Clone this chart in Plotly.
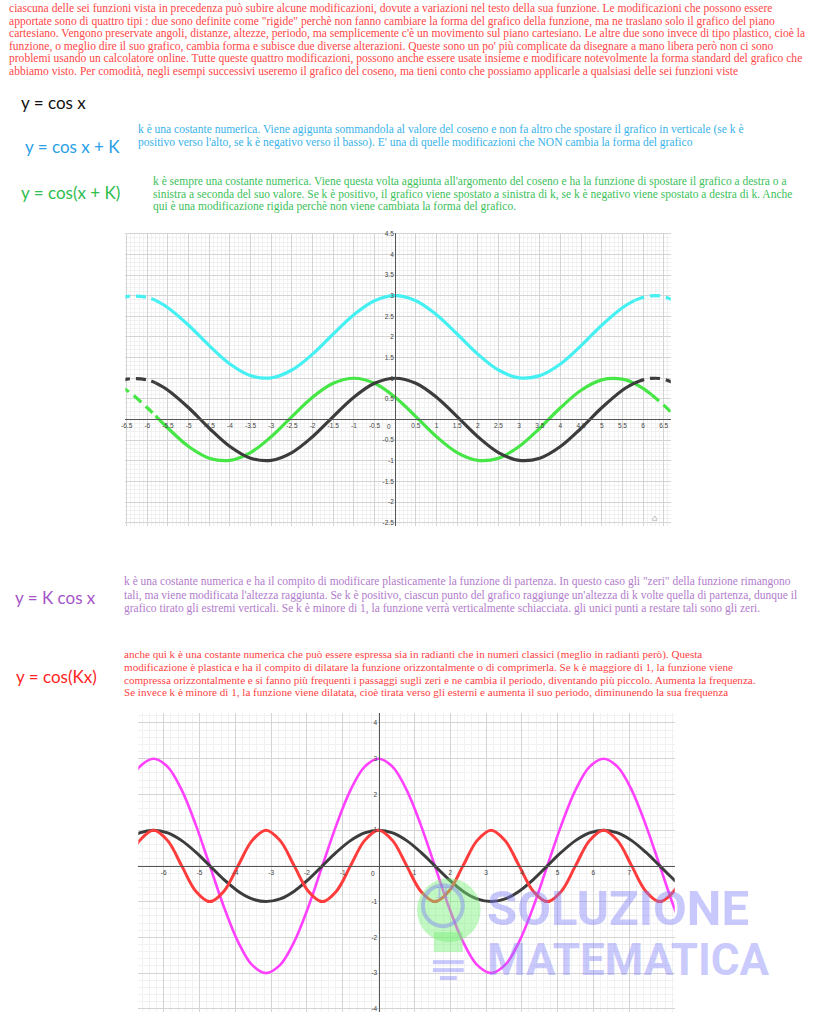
import plotly.graph_objects as go

W, H = 819, 1024

# ---------------- DATA ----------------
RED_INTRO = [
    "ciascuna delle sei funzioni vista in precedenza può subire alcune modificazioni, dovute a variazioni nel testo della sua funzione. Le modificazioni che possono essere",
    "apportate sono di quattro tipi : due sono definite come \"rigide\" perchè non fanno cambiare la forma del grafico della funzione, ma ne traslano solo il grafico del piano",
    "cartesiano. Vengono preservate angoli, distanze, altezze, periodo, ma semplicemente c'è un movimento sul piano cartesiano. Le altre due sono invece di tipo plastico, cioè la",
    "funzione, o meglio dire il suo grafico, cambia forma e subisce due diverse alterazioni. Queste sono un po' più complicate da disegnare a mano libera però non ci sono",
    "problemi usando un calcolatore online. Tutte queste quattro modificazioni, possono anche essere usate insieme e modificare notevolmente la forma standard del grafico che",
    "abbiamo visto. Per comodità, negli esempi successivi useremo il grafico del coseno, ma tieni conto che possiamo applicarle a qualsiasi delle sei funzioni viste",
]
BLUE_TEXT = [
    "k è una costante numerica. Viene agigunta sommandola al valore del coseno e non fa altro che spostare il grafico in verticale (se k è",
    "positivo verso l'alto, se k è negativo verso il basso). E' una di quelle modificazioni che NON cambia la forma del grafico",
]
GREEN_TEXT = [
    "k è sempre una costante numerica. Viene questa volta aggiunta all'argomento del coseno e ha la funzione di spostare il grafico a destra o a",
    "sinistra a seconda del suo valore. Se k è positivo, il grafico viene spostato a sinistra di k, se k è negativo viene spostato a destra di k. Anche",
    "qui è una modificazione rigida perchè non viene cambiata la forma del grafico.",
]
PURPLE_TEXT = [
    "k è una costante numerica e ha il compito di modificare plasticamente la funzione di partenza. In questo caso gli \"zeri\" della funzione rimangono",
    "tali, ma viene modificata l'altezza raggiunta. Se k è positivo, ciascun punto del grafico raggiunge un'altezza di k volte quella di partenza, dunque il",
    "grafico tirato gli estremi verticali. Se k è minore di 1, la funzione verrà verticalmente schiacciata. gli unici punti a restare tali sono gli zeri.",
]
RED_TEXT = [
    "anche qui k è una costante numerica che può essere espressa sia in radianti che in numeri classici (meglio in radianti però). Questa",
    "modificazione è plastica e ha il compito di dilatare la funzione orizzontalmente o di comprimerla. Se k è maggiore di 1, la funzione viene",
    "compressa orizzontalmente e si fanno più frequenti i passaggi sugli zeri e ne cambia il periodo, diventando più piccolo. Aumenta la frequenza.",
    "Se invece k è minore di 1, la funzione viene dilatata, cioè tirata verso gli esterni e aumenta il suo periodo, diminunendo la sua frequenza",
]
FORMULAS = ["y = cos x", "y = cos x + K", "y = cos(x + K)", "y = K cos x", "y = cos(Kx)"]
WATERMARK = ["SOLUZIONE", "MATEMATICA"]

# Chart 1 : cos x, cos x + 2, cos(x + 1)
X1 = [-7, -6.5, -6, -5.8, -5.5, -5, -4.5, -4, -3.5, -3, -2.5, -2, -1.5, -1, -0.5, 0,
      0.5, 1, 1.5, 2, 2.5, 3, 3.5, 4, 4.5, 5, 5.5, 5.8, 6, 6.2, 6.5, 7]
BLACK1 = [0.754, 0.977, 0.960, 0.886, 0.709, 0.284, -0.211, -0.654, -0.937, -0.990, -0.801, -0.416,
          0.071, 0.540, 0.878, 1.0, 0.878, 0.540, 0.071, -0.416, -0.801, -0.990, -0.937, -0.654,
          -0.211, 0.284, 0.709, 0.886, 0.960, 0.997, 0.977, 0.754]
CYAN1 = [2.754, 2.977, 2.960, 2.886, 2.709, 2.284, 1.789, 1.346, 1.063, 1.010, 1.199, 1.584,
         2.071, 2.540, 2.878, 3.0, 2.878, 2.540, 2.071, 1.584, 1.199, 1.010, 1.063, 1.346,
         1.789, 2.284, 2.709, 2.886, 2.960, 2.997, 2.977, 2.754]
GREEN1 = [0.960, 0.709, 0.284, 0.087, -0.211, -0.654, -0.937, -0.990, -0.801, -0.416, 0.071, 0.540,
          0.878, 1.0, 0.878, 0.540, 0.071, -0.416, -0.801, -0.990, -0.937, -0.654, -0.211, 0.284,
          0.709, 0.960, 0.977, 0.869, 0.754, 0.608, 0.347, -0.146]
SOLID_SPAN1 = {"black": (-5.8, 5.8), "cyan": (-5.8, 5.8), "green": (-5.8, 6.2)}
X1_TICKS = [-6.5, -6, -5.5, -5, -4.5, -4, -3.5, -3, -2.5, -2, -1.5, -1, -0.5,
            0.5, 1, 1.5, 2, 2.5, 3, 3.5, 4, 4.5, 5, 5.5, 6, 6.5]
Y1_TICKS = [-2.5, -2, -1.5, -1, -0.5, 0.5, 1, 1.5, 2, 2.5, 3, 3.5, 4, 4.5]

# Chart 2 : cos x, cos(2x), 3 cos x
X2 = [-7.069, -6.676, -6.283, -5.890, -5.498, -5.105, -4.712, -4.320, -3.927, -3.534,
      -3.142, -2.749, -2.356, -1.963, -1.571, -1.178, -0.785, -0.393, 0.0, 0.393,
      0.785, 1.178, 1.571, 1.963, 2.356, 2.749, 3.142, 3.534, 3.927, 4.320,
      4.712, 5.105, 5.498, 5.890, 6.283, 6.676, 7.069, 7.461, 7.854, 8.247, 8.639]
BLACK2 = [0.707, 0.924, 1, 0.924, 0.707, 0.383, 0, -0.383, -0.707, -0.924,
          -1, -0.924, -0.707, -0.383, 0, 0.383, 0.707, 0.924, 1, 0.924,
          0.707, 0.383, 0, -0.383, -0.707, -0.924, -1, -0.924, -0.707, -0.383,
          0, 0.383, 0.707, 0.924, 1, 0.924, 0.707, 0.383, 0, -0.383, -0.707]
RED2 = [0, 0.707, 1, 0.707, 0, -0.707, -1, -0.707, 0, 0.707,
        1, 0.707, 0, -0.707, -1, -0.707, 0, 0.707, 1, 0.707,
        0, -0.707, -1, -0.707, 0, 0.707, 1, 0.707, 0, -0.707,
        -1, -0.707, 0, 0.707, 1, 0.707, 0, -0.707, -1, -0.707, 0]
MAGENTA2 = [2.121, 2.772, 3, 2.772, 2.121, 1.149, 0, -1.149, -2.121, -2.772,
            -3, -2.772, -2.121, -1.149, 0, 1.149, 2.121, 2.772, 3, 2.772,
            2.121, 1.149, 0, -1.149, -2.121, -2.772, -3, -2.772, -2.121, -1.149,
            0, 1.149, 2.121, 2.772, 3, 2.772, 2.121, 1.149, 0, -1.149, -2.121]
X2_TICKS = [-6, -5, -4, -3, -2, -1, 1, 2, 3, 4, 5, 6, 7]
Y2_TICKS = [-4, -3, -2, -1, 1, 2, 3, 4]

# ---------------- STYLE / LAYOUT ----------------
C_BLACK = "#3c3c3c"
C_CYAN = "#45f0f2"
C_GREEN = "#45e645"
C_RED = "#ff3c3c"
C_MAG = "#ff40ff"

# plot areas in pixels: left, right, top, bottom; data ranges
P1 = dict(l=122, r=670, t=231, b=525, xr=[-6.53, 6.67], yr=[-2.58, 4.53])
P2 = dict(l=135, r=674, t=712, b=1012, xr=[-6.71, 8.27], yr=[-4.09, 4.29])


def px_x(v):
    return v / W


def px_y(v):
    return 1 - v / H


fig = go.Figure()


def split(xs, ys, lo, hi):
    solid = [(x, y) for x, y in zip(xs, ys) if lo <= x <= hi]
    left = [(x, y) for x, y in zip(xs, ys) if x <= lo]
    right = [(x, y) for x, y in zip(xs, ys) if x >= hi]
    return solid, left, right


def add_curve(xs, ys, color, width, xa, ya, span=None):
    if span is None:
        parts = [(list(zip(xs, ys)), "solid")]
    else:
        s, l, r = split(xs, ys, *span)
        parts = [(s, "solid"), (l, "10px,6px"), (r, "10px,6px")]
    for pts, dash in parts:
        fig.add_trace(go.Scatter(
            x=[p[0] for p in pts], y=[p[1] for p in pts], mode="lines",
            line=dict(color=color, width=width, dash=dash, shape="spline", smoothing=1.0),
            xaxis=xa, yaxis=ya, showlegend=False, hoverinfo="skip"))


add_curve(X1, CYAN1, C_CYAN, 3.2, "x", "y", SOLID_SPAN1["cyan"])
add_curve(X1, GREEN1, C_GREEN, 3.2, "x", "y", SOLID_SPAN1["green"])
add_curve(X1, BLACK1, C_BLACK, 3.2, "x", "y", SOLID_SPAN1["black"])

add_curve(X2, MAGENTA2, C_MAG, 2.6, "x2", "y2")
add_curve(X2, BLACK2, C_BLACK, 3.0, "x2", "y2")
add_curve(X2, RED2, C_RED, 3.0, "x2", "y2")


def axis_pair(P, xticks, yticks, minor):
    xd = [px_x(P["l"]), px_x(P["r"])]
    yd = [px_y(P["b"]), px_y(P["t"])]
    x0, x1 = P["xr"]
    y0, y1 = P["yr"]
    pos_x_axis = yd[0] + (0 - y0) / (y1 - y0) * (yd[1] - yd[0])
    pos_y_axis = xd[0] + (0 - x0) / (x1 - x0) * (xd[1] - xd[0])
    tickfont = dict(family="Liberation Sans", size=6.5, color="#444")
    common = dict(tickfont=tickfont, tickmode="array",
                  showgrid=True, gridcolor="#d4d4d4", gridwidth=1,
                  minor=dict(dtick=minor, showgrid=True, gridcolor="#f1f1f1", gridwidth=1),
                  zeroline=False, showline=True, linecolor="#555", linewidth=1.2,
                  ticks="", fixedrange=True)
    xa = dict(domain=xd, range=P["xr"], anchor="free", position=pos_x_axis,
              tickvals=xticks, ticktext=[("%g" % v) for v in xticks], **common)
    ya = dict(domain=yd, range=P["yr"], anchor="free", position=pos_y_axis,
              tickvals=yticks, ticktext=[("%g" % v) for v in yticks], **common)
    return xa, ya


xa1, ya1 = axis_pair(P1, X1_TICKS, Y1_TICKS, 0.1)
xa2, ya2 = axis_pair(P2, X2_TICKS, Y2_TICKS, 0.2)

annotations = []


def text_line(txt, x, y, color, size, family="Liberation Serif", **kw):
    annotations.append(dict(text=txt, x=px_x(x), y=px_y(y), xref="paper", yref="paper",
                            xanchor="left", yanchor="middle", showarrow=False,
                            font=dict(family=family, size=size, color=color), **kw))


for i, t in enumerate(RED_INTRO):
    text_line(t, 3, 7 + i * 12.5, "#ff4646", 11.55)
for i, t in enumerate(BLUE_TEXT):
    text_line(t, 133, 128 + i * 13, "#38b2ea", 11.5)
for i, t in enumerate(GREEN_TEXT):
    text_line(t, 148, 180 + i * 12.5, "#3cbf5a", 11.5)
for i, t in enumerate(PURPLE_TEXT):
    text_line(t, 119, 581 + i * 13.2, "#b27ccc", 11.5)
for i, t in enumerate(RED_TEXT):
    text_line(t, 119, 654 + i * 12.5, "#ff3f3f", 11.1)

# hand-written formulas
hf = "Lato"
text_line(FORMULAS[0], 15, 101, "#111111", 17, hf)
text_line(FORMULAS[1], 19, 145, "#2a9fe6", 17, hf)
text_line(FORMULAS[2], 15, 191, "#2ebd4e", 17, hf)
text_line(FORMULAS[3], 9, 597, "#a455c6", 17, hf)
text_line(FORMULAS[4], 10, 676, "#ff2424", 17, hf)

# origin labels
for xr_, yr_ in (("x", "y"), ("x2", "y2")):
    annotations.append(dict(text="0", x=0, y=0, xref=xr_, yref=yr_, xanchor="right",
                            yanchor="top", xshift=-2, yshift=-2, showarrow=False,
                            font=dict(family="Liberation Sans", size=6.5, color="#444")))

# home icon
annotations.append(dict(text="⌂", x=px_x(658), y=px_y(517), xref="paper", yref="paper",
                        showarrow=False, font=dict(size=9, color="#666")))

# watermark
wm = "rgba(125,125,250,0.42)"
text_line("<b>%s</b>" % WATERMARK[0], 483, 908, wm, 49, "Roboto")
text_line("<b>%s</b>" % WATERMARK[1], 483, 960, wm, 44, "Roboto")
annotations.append(dict(text="π", x=px_x(441), y=px_y(905), xref="paper", yref="paper",
                        showarrow=False, font=dict(family="DejaVu Serif", size=20, color=wm)))

shapes = [
    dict(type="circle", xref="paper", yref="paper", x0=px_x(415), x1=px_x(479),
         y0=px_y(942), y1=px_y(878), fillcolor="rgba(120,240,120,0.45)", line=dict(width=0)),
    dict(type="circle", xref="paper", yref="paper", x0=px_x(421), x1=px_x(461),
         y0=px_y(926), y1=px_y(885), fillcolor="rgba(0,0,0,0)", line=dict(color=wm, width=4)),
    dict(type="rect", xref="paper", yref="paper", x0=px_x(432), x1=px_x(461),
         y0=px_y(952), y1=px_y(932), fillcolor="rgba(120,240,120,0.45)", line=dict(width=0)),
    dict(type="line", xref="paper", yref="paper", x0=px_x(431), x1=px_x(462),
         y0=px_y(962), y1=px_y(962), line=dict(color=wm, width=4)),
    dict(type="line", xref="paper", yref="paper", x0=px_x(431), x1=px_x(462),
         y0=px_y(970), y1=px_y(970), line=dict(color=wm, width=4)),
    dict(type="line", xref="paper", yref="paper", x0=px_x(438), x1=px_x(455),
         y0=px_y(978), y1=px_y(978), line=dict(color=wm, width=4)),
]

fig.update_layout(
    width=W, height=H, autosize=False,
    margin=dict(l=0, r=0, t=0, b=0),
    paper_bgcolor="white", plot_bgcolor="white",
    xaxis=xa1, yaxis=ya1, xaxis2=xa2, yaxis2=ya2,
    annotations=annotations, shapes=shapes, showlegend=False,
)

fig.write_html("out.html", config={"displayModeBar": False},
               post_script="document.body.style.margin='0';")
